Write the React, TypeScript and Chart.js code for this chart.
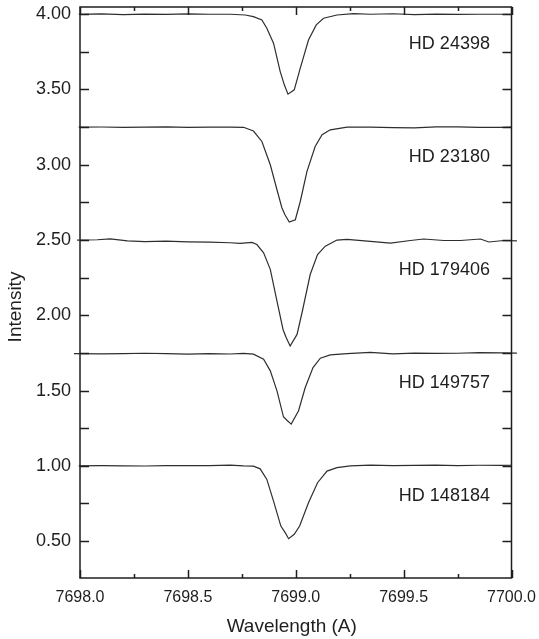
import React, { useEffect, useRef } from "react";
import { Chart, registerables } from "chart.js";

Chart.register(...registerables);

const FONT = '"Liberation Sans", Arial, Helvetica, sans-serif';
const INK = "#1e1e1e";
const LINE = "#2e2e2e";

// Axis ticks
const wavelengthTicks = [7698.0, 7698.5, 7699.0, 7699.5, 7700.0];
const wavelengthMinorTicks = [7698.25, 7698.75, 7699.25, 7699.75];
const intensityTicks = [0.5, 1.0, 1.5, 2.0, 2.5, 3.0, 3.5, 4.0];
const intensityMinorTicks = [0.75, 1.25, 1.75, 2.25, 2.75, 3.25, 3.75];

// Stars, stacked top to bottom
const starNames = ["HD 24398", "HD 23180", "HD 179406", "HD 149757", "HD 148184"];
const labelWavelength = 7699.9;
const labelIntensity = [3.8, 3.05, 2.3, 1.55, 0.8];

// K I 7699 line profiles (offset spectra)
const hd24398Wave = [
  7697.994, 7698.1, 7698.2, 7698.3, 7698.4, 7698.5, 7698.6,
  7698.696, 7698.766, 7698.804, 7698.843, 7698.866, 7698.897, 7698.928, 7698.947, 7698.964,
  7698.993, 7699.021, 7699.059, 7699.095, 7699.129, 7699.191, 7699.268, 7699.346,
  7699.45, 7699.55, 7699.65, 7699.75, 7699.85, 7699.95, 7700.0,
];
const hd24398Flux = [
  4.0, 4.002, 3.998, 4.001, 3.999, 4.002, 4.0,
  4.0, 3.995, 3.984, 3.962, 3.907, 3.808, 3.619, 3.531, 3.469,
  3.498, 3.642, 3.829, 3.929, 3.973, 3.995, 4.004, 4.0,
  4.003, 3.998, 4.001, 3.999, 4.0, 4.0, 4.0,
];

const hd23180Wave = [
  7697.994, 7698.1, 7698.2, 7698.3, 7698.4, 7698.5, 7698.6,
  7698.696, 7698.758, 7698.804, 7698.843, 7698.882, 7698.913, 7698.936, 7698.95, 7698.97,
  7698.998, 7699.021, 7699.052, 7699.09, 7699.122, 7699.16, 7699.238, 7699.346,
  7699.45, 7699.55, 7699.65, 7699.75, 7699.85, 7699.95, 7700.0,
];
const hd23180Flux = [
  3.25, 3.251, 3.249, 3.25, 3.252, 3.249, 3.25,
  3.25, 3.249, 3.224, 3.155, 3.0, 2.834, 2.713, 2.668, 2.62,
  2.635, 2.756, 2.956, 3.121, 3.199, 3.232, 3.25, 3.25,
  3.247, 3.245, 3.252, 3.252, 3.249, 3.248, 3.25,
];

const hd179406Wave = [
  7697.986, 7698.08, 7698.14, 7698.22, 7698.3, 7698.4, 7698.5, 7698.6,
  7698.696, 7698.742, 7698.797, 7698.82, 7698.851, 7698.882, 7698.913, 7698.941, 7698.956, 7698.974,
  7699.006, 7699.029, 7699.067, 7699.101, 7699.137, 7699.191, 7699.238, 7699.346,
  7699.439, 7699.531, 7699.593, 7699.686, 7699.763, 7699.856, 7699.895, 7699.964, 7700.025,
];
const hd179406Flux = [
  2.5, 2.502, 2.508, 2.495, 2.49, 2.493, 2.488, 2.486,
  2.482, 2.478, 2.484, 2.47, 2.415, 2.305, 2.095, 1.906, 1.851, 1.796,
  1.873, 2.017, 2.271, 2.404, 2.459, 2.5, 2.504, 2.491,
  2.48, 2.497, 2.507, 2.497, 2.497, 2.507, 2.487, 2.497, 2.495,
];

const hd149757Wave = [
  7697.972, 7698.1, 7698.2, 7698.3, 7698.4, 7698.5, 7698.6,
  7698.696, 7698.758, 7698.804, 7698.851, 7698.882, 7698.913, 7698.943, 7698.959, 7698.979,
  7699.013, 7699.044, 7699.08, 7699.114, 7699.16, 7699.238, 7699.346,
  7699.45, 7699.55, 7699.65, 7699.75, 7699.85, 7699.95, 7700.025,
];
const hd149757Flux = [
  1.745, 1.744, 1.746, 1.748, 1.745, 1.742, 1.746,
  1.743, 1.747, 1.742, 1.709, 1.631, 1.498, 1.326, 1.303, 1.277,
  1.366, 1.52, 1.653, 1.715, 1.737, 1.745, 1.754,
  1.744, 1.749, 1.747, 1.748, 1.752, 1.75, 1.749,
];

const hd148184Wave = [
  7697.994, 7698.1, 7698.2, 7698.3, 7698.4, 7698.5, 7698.6,
  7698.696, 7698.758, 7698.804, 7698.835, 7698.866, 7698.897, 7698.931, 7698.951, 7698.967,
  7698.993, 7699.018, 7699.059, 7699.101, 7699.145, 7699.191, 7699.253, 7699.346,
  7699.45, 7699.55, 7699.65, 7699.75, 7699.85, 7699.95, 7700.0,
];
const hd148184Flux = [
  1.0, 1.001, 1.0, 0.999, 1.001, 1.002, 1.001,
  1.005, 1.0, 0.998, 0.98, 0.91, 0.766, 0.6, 0.556, 0.516,
  0.545, 0.6, 0.755, 0.888, 0.965, 0.988, 1.0, 1.005,
  1.002, 1.003, 1.005, 1.002, 1.004, 1.003, 1.004,
];

const spectra = [
  [hd24398Wave, hd24398Flux],
  [hd23180Wave, hd23180Flux],
  [hd179406Wave, hd179406Flux],
  [hd149757Wave, hd149757Flux],
  [hd148184Wave, hd148184Flux],
];

// Frame, inward tick marks, star labels and axis titles
const framePlugin = {
  id: "frame",
  afterDatasetsDraw(chart: any) {
    const { ctx, chartArea: a, scales } = chart;
    const sx = scales.x;
    const sy = scales.y;
    ctx.save();
    ctx.strokeStyle = INK;
    ctx.lineWidth = 1.5;
    ctx.strokeRect(a.left, a.top, a.right - a.left, a.bottom - a.top);

    ctx.beginPath();
    const seg = (x1: number, y1: number, x2: number, y2: number) => {
      ctx.moveTo(x1, y1);
      ctx.lineTo(x2, y2);
    };
    for (const v of [...intensityTicks, ...intensityMinorTicks]) {
      const py = Math.round(sy.getPixelForValue(v)) + 0.5;
      seg(a.left, py, a.left + 9, py);
      seg(a.right, py, a.right - 9, py);
    }
    for (const v of wavelengthTicks) {
      const px = Math.round(sx.getPixelForValue(v)) + 0.5;
      seg(px, a.bottom, px, a.bottom - 8);
      seg(px, a.top, px, a.top + 8);
    }
    for (const v of wavelengthMinorTicks) {
      const px = Math.round(sx.getPixelForValue(v)) + 0.5;
      seg(px, a.bottom, px, a.bottom - 4);
      seg(px, a.top, px, a.top + 4);
    }
    ctx.stroke();

    ctx.fillStyle = INK;
    ctx.font = `18px ${FONT}`;
    ctx.textAlign = "right";
    ctx.textBaseline = "middle";
    starNames.forEach((name, i) => {
      ctx.fillText(name, sx.getPixelForValue(labelWavelength), sy.getPixelForValue(labelIntensity[i]));
    });

    ctx.font = `19px ${FONT}`;
    ctx.textAlign = "center";
    ctx.fillText("Wavelength (A)", (a.left + a.right) / 2 - 4, 627);

    ctx.translate(15.5, 307);
    ctx.rotate(-Math.PI / 2);
    ctx.fillText("Intensity", 0, 0);
    ctx.restore();
  },
};

export default function App() {
  const canvasRef = useRef<HTMLCanvasElement | null>(null);

  useEffect(() => {
    if (!canvasRef.current) return;
    const chart = new Chart(canvasRef.current, {
      type: "line",
      data: {
        datasets: spectra.map(([wave, flux], i) => ({
          label: starNames[i],
          data: wave.map((w, j) => ({ x: w, y: flux[j] })),
          borderColor: LINE,
          borderWidth: 1.2,
          pointRadius: 0,
          tension: 0,
          fill: false,
          clip: false as any,
        })),
      },
      options: {
        animation: false,
        responsive: false,
        devicePixelRatio: 1,
        layout: { padding: { left: 0, top: 7, right: 27.5, bottom: 0 } },
        plugins: { legend: { display: false }, tooltip: { enabled: false } },
        scales: {
          x: {
            type: "linear",
            min: 7698.0,
            max: 7700.0,
            afterBuildTicks: (s: any) => {
              s.ticks = wavelengthTicks.map((v) => ({ value: v }));
            },
            afterFit: (s: any) => {
              s.height = 61;
              s.paddingLeft = 0;
              s.paddingRight = 0;
            },
            ticks: {
              callback: (v: any) => Number(v).toFixed(1),
              font: { family: FONT, size: 16 },
              color: INK,
              padding: 10,
              maxRotation: 0,
              autoSkip: false,
            },
            grid: { display: false, drawTicks: false },
            border: { display: false },
          },
          y: {
            type: "linear",
            min: 0.255,
            max: 4.048,
            afterBuildTicks: (s: any) => {
              s.ticks = intensityTicks.map((v) => ({ value: v }));
            },
            afterFit: (s: any) => {
              s.width = 80;
              s.paddingTop = 0;
              s.paddingBottom = 0;
            },
            ticks: {
              callback: (v: any) => Number(v).toFixed(2),
              font: { family: FONT, size: 18 },
              color: INK,
              padding: 9,
              autoSkip: false,
            },
            grid: { display: false, drawTicks: false },
            border: { display: false },
          },
        },
      },
      plugins: [framePlugin],
    });
    return () => chart.destroy();
  }, []);

  return (
    <div style={{ position: "absolute", left: 0, top: 0, width: 539, height: 639, background: "#fff" }}>
      <canvas ref={canvasRef} width={539} height={639} style={{ width: 539, height: 639 }} />
    </div>
  );
}
